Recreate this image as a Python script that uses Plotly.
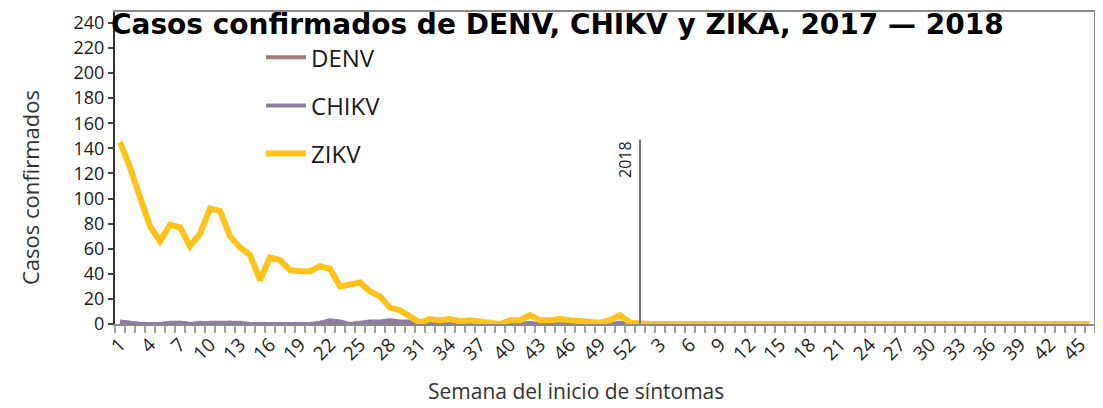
import plotly.graph_objects as go

weeks_2017 = list(range(1, 53))
weeks_2018 = list(range(1, 47))

zikv_2017 = [145, 125, 101, 78, 66, 79, 77, 62, 72, 92, 90, 70, 61, 55, 35, 53, 51, 43, 42, 42,
             46, 44, 30, 31, 33, 26, 22, 13, 11, 6, 1, 4, 3, 4, 2, 3, 2, 1, 0, 3,
             3, 7, 3, 3, 4, 3, 2, 2, 1, 3, 7, 1]
zikv_2018 = [0] * 46

denv_2017 = [1, 1, 0, 0, 0, 0, 1, 0, 1, 0, 0, 1, 1, 0, 0, 0, 0, 0, 0, 0,
             0, 0, 0, 0, 0, 0, 1, 0, 0, 0, 0, 0, 0, 0, 0, 0, 0, 0, 0, 0,
             0, 0, 0, 0, 0, 0, 0, 0, 0, 0, 0, 0]
denv_2018 = [0] * 46

chikv_2017 = [2, 1, 0, 0, 0, 1, 1, 0, 0, 1, 1, 1, 0, 0, 0, 0, 0, 0, 0, 0,
              1, 3, 2, 0, 1, 2, 2, 3, 2, 2, 1, 0, 0, 0, 0, 0, 0, 0, 0, 0,
              0, 1, 0, 0, 1, 0, 0, 0, 0, 0, 1, 0]
chikv_2018 = [0] * 46

week_labels = [str(w) for w in weeks_2017] + [str(w) for w in weeks_2018]
x_idx = list(range(len(week_labels)))
tick_idx = x_idx[::3]
tick_text = [week_labels[i] for i in tick_idx]
year_start_2018 = len(weeks_2017)

series = [
    ("DENV", denv_2017 + denv_2018, "#A27A72", 4),
    ("CHIKV", chikv_2017 + chikv_2018, "#8E7CA8", 4),
    ("ZIKV", zikv_2017 + zikv_2018, "#FFC21A", 6),
]

fig = go.Figure()
for i, (name, vals, color, w) in enumerate(series):
    fig.add_trace(go.Scatter(
        x=x_idx, y=vals, mode="lines", name=name, legendgroup=name,
        line=dict(color=color, width=w, shape="linear"),
    ))

font_main = "Open Sans"

fig.update_layout(
    width=1095, height=400,
    margin=dict(l=107, r=8, t=4, b=84),
    paper_bgcolor="white", plot_bgcolor="white",
    showlegend=True,
    legend=dict(x=0.149, y=0.926, xanchor="left", yanchor="top",
                font=dict(family=font_main, size=24, color="#1a1a1a"),
                tracegroupgap=14, bgcolor="rgba(0,0,0,0)", itemwidth=40),
    xaxis=dict(
        range=[-0.5, len(x_idx) - 0.5], automargin=False,
        tickmode="array", tickvals=tick_idx, ticktext=tick_text,
        tickangle=-45, ticks="", showgrid=False, zeroline=False,
        showline=True, linecolor="#8a8a8a", linewidth=2, mirror=True,
        tickfont=dict(family=font_main, size=19, color="#222"),
        minor=dict(ticks="outside", tickmode="linear", tick0=-0.5, dtick=1,
                   ticklen=7, tickcolor="#a0a0a0", tickwidth=1.5, showgrid=False),
    ),
    yaxis=dict(
        range=[0, 248.6], tickmode="linear", tick0=0, dtick=20, automargin=False,
        showgrid=False, zeroline=False,
        showline=True, linecolor="#333333", linewidth=2,
        ticks="outside", ticklen=5, tickcolor="#444", tickwidth=1.5,
        tickfont=dict(family=font_main, size=18, color="#1a1a1a"),
    ),
)

# axis titles placed as in the reference
fig.add_annotation(x=-0.0867, y=0.436, xref="paper", yref="paper",
                   text="Casos confirmados", textangle=-90, showarrow=False,
                   xanchor="center", yanchor="middle",
                   font=dict(family=font_main, size=22, color="#333"))
fig.add_annotation(x=0.470, y=-0.215, xref="paper", yref="paper",
                   text="Semana del inicio de síntomas", showarrow=False,
                   xanchor="center", yanchor="middle",
                   font=dict(family=font_main, size=21, color="#333"))

# right border
fig.add_shape(type="line", xref="paper", yref="paper", x0=1, x1=1, y0=0, y1=1,
              line=dict(color="#8a8a8a", width=2))

# 2018 divider
fig.add_shape(type="line", xref="x", yref="y", x0=year_start_2018, x1=year_start_2018,
              y0=0, y1=147, line=dict(color="#7a7a7a", width=2))
fig.add_annotation(x=year_start_2018, y=147, xref="x", yref="y", text="2018",
                   textangle=-90, showarrow=False, xanchor="right", yanchor="top",
                   xshift=-2, font=dict(family=font_main, size=16, color="#1a1a1a"))

# title overlapping the top border, as in the reference
fig.add_annotation(x=0.452, y=1.019, xref="paper", yref="paper",
                   text="<b>Casos confirmados de DENV, CHIKV y ZIKA, 2017 — 2018</b>",
                   showarrow=False, xanchor="center", yanchor="top",
                   font=dict(family="DejaVu Sans", size=28, color="#000"))

fig.write_html("out.html")
